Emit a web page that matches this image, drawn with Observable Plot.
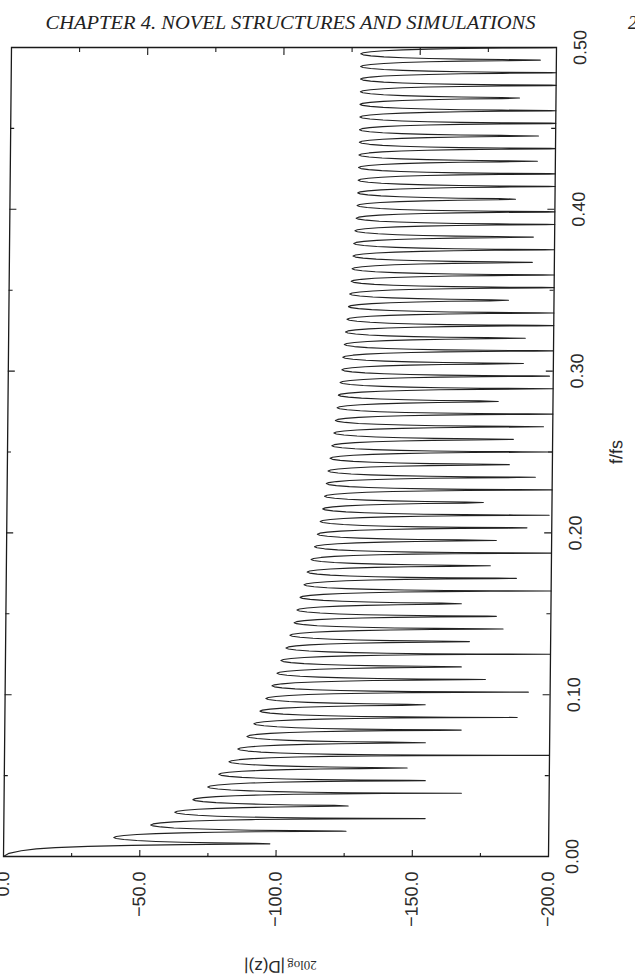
<!DOCTYPE html>
<html>
<head>
<meta charset="utf-8">
<script src="https://cdn.jsdelivr.net/npm/d3@7"></script>
<script src="https://cdn.jsdelivr.net/npm/@observablehq/plot@0.6"></script>
<style>
  html, body { margin: 0; padding: 0; background: #fff; }
  #page { position: relative; width: 635px; height: 975px; overflow: hidden; background: #fff; }
  #header { position: absolute; left: 0; top: 0; }
  #chart { position: absolute; left: 0; top: 0; width: 975px; height: 635px; }
</style>
</head>
<body>
<div id="page">
  <svg id="header" width="635" height="45"></svg>
  <div id="chart"></div>
</div>
<script>
// ---------------- data ----------------
const headerText = "CHAPTER 4.  NOVEL STRUCTURES AND SIMULATIONS";
const pageNumber = "2";
const xLabel = "f/fs";
const yLabelA = "20log";
const yLabelB = "|D(z)|";

// frequency axis (f/fs)
const fDomain = [0, 0.5];
const fLabels = [0.0, 0.1, 0.2, 0.3, 0.4, 0.5];
const fTicksMajor = [0.1, 0.2, 0.3, 0.4];
const fTicksMinor = [0.05, 0.15, 0.25, 0.35, 0.45];

// magnitude axis (dB)
const dbDomain = [-200, 0];
const dbLabels = [0, -50, -100, -150, -200];
const dbTicksMajor = [-50, -100, -150];
const dbTicksMinor = [-25, -75, -125, -175];

// notches are evenly spaced: 64 lobes between 0 and 0.5
const lobeCount = 64;

// main lobe (0 .. first notch): fraction of lobe width, level in dB
const mainLobeU  = [0, 0.25, 0.45, 0.6, 0.7, 0.8, 0.88, 0.94, 0.97];
const mainLobeDb = [0, -2, -6.5, -12, -19, -31, -47, -66, -84];

// side-lobe peak levels (lobes 1..63), dB
const peakDb = [
  -40.4, -53.9, -62.7, -69.3, -74.7, -78.7, -82.4, -85.6, -88.9, -91.4,
  -93.6, -95.7, -97.9, -99.7, -101.1, -102.9, -104.3, -105.8, -106.8, -107.9,
  -109.3, -110.4, -111.8, -113.0, -114.0, -115.0, -115.9, -116.5, -117.1, -117.7,
  -118.4, -119.0, -119.7, -120.2, -120.8, -121.2, -121.8, -122.4, -122.7, -123.2,
  -123.6, -124.1, -124.6, -125.0, -125.5, -125.8, -126.1, -126.3, -126.7, -127.1,
  -127.4, -127.6, -127.7, -127.8, -127.9, -128.0, -128.0, -128.1, -128.1, -128.2,
  -128.2, -128.2, -128.2
];

// notch depths (notches 1..64), dB (-200 = clipped at the axis)
const notchDb = [
  -97.7, -125.6, -154.6, -126.3, -167.8, -154.5, -147.8, -200, -154.4, -167.5,
  -188.0, -154.2, -192.0, -176.2, -167.3, -200, -170.2, -182.5, -180.0, -167.1,
  -200, -187.2, -177.6, -200, -179.7, -190.9, -199, -174.8, -200, -193.8,
  -184.2, -200, -185.6, -196.6, -200, -179.9, -200, -198.6, -189.0, -200,
  -189.6, -200, -200, -183.3, -200, -200, -191.9, -200, -192.2, -200,
  -200, -185.5, -200, -200, -193.4, -200, -193.7, -200, -200, -186.6,
  -200, -200, -194.1, -200
];

// typical side-lobe profile: fraction of lobe width from the notch, dB below the peak
const lobeShapeU    = [0.02, 0.045, 0.08, 0.13, 0.19, 0.26, 0.34, 0.42, 0.5];
const lobeShapeDrop = [-70, -52, -37, -25, -15.5, -8.5, -3.7, -0.9, 0];

// ---------------- build the curve ----------------
const step = fDomain[1] / lobeCount;
const curve = [];
mainLobeU.forEach((u, i) => curve.push({f: u * step, db: mainLobeDb[i]}));
for (let k = 1; k < lobeCount; k++) {
  const lo = notchDb[k - 1], hi = notchDb[k], pk = peakDb[k - 1];
  curve.push({f: k * step, db: lo});
  for (let i = 0; i < lobeShapeU.length; i++) {
    const d = pk + lobeShapeDrop[i];
    if (d > lo) curve.push({f: (k + lobeShapeU[i]) * step, db: d});
  }
  for (let i = lobeShapeU.length - 2; i >= 0; i--) {
    const d = pk + lobeShapeDrop[i];
    if (d > hi) curve.push({f: (k + 1 - lobeShapeU[i]) * step, db: d});
  }
}
curve.push({f: lobeCount * step, db: notchDb[lobeCount - 1]});

// ---------------- plot (drawn upright, then turned like the scanned page) ----------------
const W = 975, H = 635;
const mL = 118, mR = 48, mT = 3, mB = 87;
const dbPerPx = (dbDomain[1] - dbDomain[0]) / (H - mT - mB);
const fPerPx = (fDomain[1] - fDomain[0]) / (W - mL - mR);
const tMaj = 7, tMin = 4;
const ink = "#1a1a1a";
const sans = "'Liberation Sans', Arial, sans-serif";
const minus = d => (d < 0 ? "\u2212" : "") + Math.abs(d).toFixed(1);

const chart = Plot.plot({
  width: W, height: H,
  marginLeft: mL, marginRight: mR, marginTop: mT, marginBottom: mB,
  x: {domain: fDomain, axis: null},
  y: {domain: dbDomain, axis: null},
  style: {background: "transparent", maxWidth: "none", overflow: "visible", fontFamily: sans},
  marks: [
    // inward ticks on all four sides
    Plot.ruleX(fTicksMajor, {x: d => d, y1: dbDomain[0], y2: dbDomain[0] + tMaj * dbPerPx, stroke: ink, strokeWidth: 1.1}),
    Plot.ruleX(fTicksMinor, {x: d => d, y1: dbDomain[0], y2: dbDomain[0] + tMin * dbPerPx, stroke: ink, strokeWidth: 1.1}),
    Plot.ruleX(fTicksMajor, {x: d => d, y1: dbDomain[1], y2: dbDomain[1] - tMaj * dbPerPx, stroke: ink, strokeWidth: 1.1}),
    Plot.ruleX(fTicksMinor, {x: d => d, y1: dbDomain[1], y2: dbDomain[1] - tMin * dbPerPx, stroke: ink, strokeWidth: 1.1}),
    Plot.ruleY(dbTicksMajor, {y: d => d, x1: fDomain[0], x2: fDomain[0] + tMaj * fPerPx, stroke: ink, strokeWidth: 1.1}),
    Plot.ruleY(dbTicksMinor, {y: d => d, x1: fDomain[0], x2: fDomain[0] + tMin * fPerPx, stroke: ink, strokeWidth: 1.1}),
    Plot.ruleY(dbTicksMajor, {y: d => d, x1: fDomain[1], x2: fDomain[1] - tMaj * fPerPx, stroke: ink, strokeWidth: 1.1}),
    Plot.ruleY(dbTicksMinor, {y: d => d, x1: fDomain[1], x2: fDomain[1] - tMin * fPerPx, stroke: ink, strokeWidth: 1.1}),
    Plot.line(curve, {x: "f", y: "db", stroke: "#222", strokeWidth: 1.1, strokeLinejoin: "round"}),
    Plot.frame({stroke: ink, strokeWidth: 1.3}),
    // tick labels
    Plot.text(fLabels, {x: d => d, y: dbDomain[0], dy: 24, text: d => d.toFixed(2),
      fontSize: 18, fill: "#2a2a2a", textAnchor: "middle", lineAnchor: "middle"}),
    Plot.text(dbLabels, {x: fDomain[0], y: d => d, dx: -15, text: minus,
      fontSize: 18, fill: "#2a2a2a", textAnchor: "end", lineAnchor: "middle"}),
    // x label
    Plot.text([xLabel], {frameAnchor: "bottom", dy: 64, text: d => d,
      fontSize: 18, fill: "#2a2a2a", lineAnchor: "middle"})
  ]
});

// y label with mixed fonts, placed via the plot's y scale
const yMid = chart.scale("y").apply((dbDomain[0] + dbDomain[1]) / 2) + 6;
const lab = d3.select(chart).append("text")
  .attr("transform", `translate(14,${yMid}) rotate(-90)`)
  .attr("text-anchor", "middle")
  .attr("fill", "#2a2a2a");
lab.append("tspan").attr("font-family", "'Liberation Serif', serif").attr("font-size", 13).text(yLabelA);
lab.append("tspan").attr("font-family", sans).attr("font-size", 17).attr("dx", 2).text(yLabelB);

chart.style.position = "absolute";
chart.style.left = "0px";
chart.style.top = "0px";
chart.style.transformOrigin = "0 0";
chart.style.transform = "translate(3px,857px) skewX(-0.566deg) translate(-3px,-857px) translate(0px,975px) rotate(-90deg)";
document.getElementById("chart").appendChild(chart);

// page header (upright)
const hdr = d3.select("#header");
hdr.append("text").attr("x", 45.5).attr("y", 28.5)
  .attr("font-family", "'Liberation Serif', serif").attr("font-style", "italic")
  .attr("font-size", 18).attr("fill", "#222")
  .attr("textLength", 490).attr("lengthAdjust", "spacingAndGlyphs")
  .text(headerText);
hdr.append("text").attr("x", 628).attr("y", 28.5)
  .attr("font-family", "'Liberation Serif', serif").attr("font-style", "italic")
  .attr("font-size", 18).attr("fill", "#222").text(pageNumber);
</script>
</body>
</html>
